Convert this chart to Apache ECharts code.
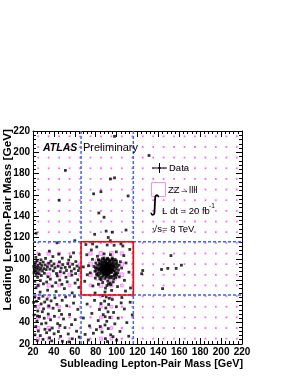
<!DOCTYPE html>
<html><head><meta charset="utf-8">
<script src="https://cdn.jsdelivr.net/npm/echarts@6/dist/echarts.min.js"></script>
<style>html,body{margin:0;padding:0;background:#fff}#c{width:291px;height:376px}</style>
</head><body><div id="c"></div>
<script>
// ---- axis / binning ----
const axisMin = 20, axisMax = 220, tickStep = 20;
const binEdges = [20,30,40,50,60,70,80,90,100,110,120,130,140,150,160,170,180,190,200,210,220];
const zzDefaultFrac = 0.17;
// ZZ->llll MC bins: [bin centre x, bin centre y, box size as fraction of bin width]
const zzBins = [
 [85,85,1],[85,95,1],[95,85,1],[95,95,1],
 [75,85,0.35],[75,95,0.35],[105,85,0.35],[105,95,0.35],[85,75,0.35],[95,75,0.3],[85,105,0.35],[95,105,0.35],
 [75,75,0.25],[105,75,0.25],[75,105,0.3],[105,105,0.3],[65,85,0.25],[65,95,0.25],[115,85,0.2],[115,95,0.2],
 [85,115,0.2],[95,115,0.2],[85,65,0.25],[95,65,0.25],
 [25,85,0.35],[25,95,0.4],[35,85,0.35],[35,95,0.35],[45,85,0.35],[45,95,0.35],[55,85,0.3],[55,95,0.3],
 [25,105,0.25],[35,105,0.3],[45,105,0.25],[55,105,0.2],[25,75,0.3],[35,75,0.3],[45,75,0.25],[55,75,0.25],
 [25,25,0.25],[25,35,0.3],[25,45,0.3],[25,55,0.3],[25,65,0.3],[35,25,0.25],[35,35,0.3],[35,45,0.25],[35,55,0.3],[35,65,0.25],
 [45,25,0.2],[45,35,0.2],[45,45,0.2],[45,55,0.25],[45,65,0.2],[55,25,0.2],[55,35,0.2],[55,45,0.2],[55,55,0.2],[55,65,0.2],
 [75,25,0.2],[85,25,0.3],[95,25,0.25],[105,25,0.2],[75,35,0.2],[85,35,0.25],[95,35,0.25],[105,35,0.2],
 [85,45,0.25],[95,45,0.25],[85,55,0.25],[95,55,0.25],[75,55,0.2],[105,55,0.2],[75,45,0.2],[105,45,0.2]
];
// selection window
const cutLow = 66, cutHigh = 116;

// ---- data events [subleading mass, leading mass] ----
const dataZpeak = [
 [90.2,89.8],[91.1,90.5],[89.4,91.2],[88.7,89.1],[92.3,88.6],[90.8,92.1],[87.9,90.4],[91.6,87.9],[89.1,88.3],[93.0,90.9],
 [88.2,92.4],[90.5,86.9],[86.8,88.7],[92.7,92.8],[89.8,93.5],[94.1,89.2],[87.3,86.5],[91.9,94.0],[85.9,91.6],[93.6,86.8],
 [90.0,91.0],[88.5,87.4],[92.0,90.2],[89.6,90.0],[91.4,91.6],[90.7,88.0],[87.6,91.9],[93.3,92.1],[88.9,94.6],[94.6,91.4],
 [86.4,89.9],[91.0,85.6],[89.0,85.8],[95.2,88.1],[85.5,87.3],[92.6,95.1],[87.1,93.6],[90.3,95.7],[96.0,90.3],[84.8,90.6],
 [93.9,94.4],[88.0,84.7],[92.1,84.9],[86.0,94.8],[95.6,93.2],[84.5,86.1],[90.9,84.0],[89.5,96.4],[97.0,91.8],[83.9,92.7],
 [91.3,89.3],[89.9,89.4],[90.6,90.7],[88.4,90.8],[92.8,89.9],[90.1,87.6],[89.2,92.9],[91.8,92.5],[87.5,88.1],[93.8,88.0],
 [90.4,93.8],[86.7,92.3],[94.4,93.6],[88.1,86.0],[92.4,86.3],[85.3,89.0],[96.3,89.6],[89.7,84.9],[91.7,96.2],[87.0,95.9],
 [93.1,91.0],[90.0,88.6],[88.8,91.7],[91.2,93.1],[89.3,87.0],[92.5,91.5],[87.8,89.6],[94.0,90.6],[90.8,94.8],[86.2,90.9],
 [95.0,87.0],[88.3,93.2],[91.5,86.6],[85.8,93.8],[97.5,88.7],[83.5,88.4],[92.9,97.0],[88.6,97.3],[94.8,95.6],[84.2,94.9],
 [96.7,94.5],[86.9,84.3],[93.4,83.7],[90.2,82.9],[98.2,92.6],[82.9,90.1],
 [82.1,86.3],[83.4,95.8],[81.2,91.5],[84.9,97.9],[98.9,95.1],[99.6,90.8],[98.1,85.4],[97.4,97.6],[95.1,98.7],[92.3,99.2],
 [87.7,98.9],[85.6,82.7],[88.6,81.6],[92.7,81.9],[95.9,83.5],[99.2,82.4],[100.6,92.7],[101.2,87.0],[80.5,88.9],[81.8,94.0],
 [83.1,83.9],[86.3,96.9],[96.4,96.3],[97.8,84.1],[94.7,82.2],[99.9,97.8],[82.6,99.1],[79.8,91.4],[102.3,93.9],[96.2,99.6],
 [84.0,81.5],[91.4,100.5],[87.9,100.8],[100.2,84.9],[80.9,85.7],[93.6,98.0],[89.6,98.4],[98.5,88.2],[83.2,90.7],[97.0,93.3]
];
const dataInWindow = [
 [80.1,96.0],[79.2,88.3],[81.5,84.6],[78.4,92.8],[99.1,86.2],[100.3,95.4],[101.8,89.7],[98.6,99.3],[95.8,100.8],[86.4,100.1],
 [90.9,99.8],[83.0,98.6],[76.9,99.5],[81.7,102.4],[94.1,103.9],[103.6,97.2],[104.8,91.3],[102.5,83.0],[97.3,81.2],[85.2,80.4],
 [79.6,81.9],[74.8,86.8],[73.1,93.5],[88.0,104.6],[99.7,106.5],[71.5,103.8],[106.9,103.0],[109.0,96.1],[111.8,87.4],[107.5,79.8],
 [91.6,79.0],[93.8,77.4],[92.2,76.2],[90.8,74.9],[94.5,75.6],[89.4,72.5],[86.7,77.8],[96.8,78.3],[82.6,76.1],[77.3,74.5],
 [100.9,73.9],[113.3,72.6],[69.5,78.9],[68.2,92.4],[71.9,85.0],[112.6,108.8],[81.0,111.2],[97.6,112.7],[104.1,114.0],[75.8,108.3],
 [70.6,113.4],[108.5,69.7],[88.9,68.8],[95.2,70.3],[79.4,67.9]
];
const dataLeftBand = [
 [21.2,90.5],[22.0,88.3],[22.8,92.1],[23.5,90.0],[24.1,87.1],[21.6,94.6],[25.0,91.8],[23.0,85.4],[26.2,89.2],[22.4,96.8],
 [24.7,93.9],[27.3,91.0],[21.0,86.9],[25.8,86.0],[28.4,93.7],[23.9,98.2],[29.1,88.5],[26.9,95.6],[20.8,92.9],[30.3,90.8],
 [24.4,82.6],[31.5,94.2],[28.0,84.3],[32.6,89.9],[22.7,101.3],[33.8,92.5],[27.6,99.0],[35.0,95.8],[30.9,86.4],[36.2,90.3],
 [34.3,83.1],[38.0,93.4],[29.8,96.9],[39.4,88.7],[37.1,97.7],[41.0,91.6],[32.0,100.4],[42.5,86.2],[40.1,95.2],[44.0,93.0],
 [36.6,80.9],[45.3,97.1],[43.2,83.9],[47.0,91.3],[46.1,88.0],[48.5,94.6],[49.6,86.8],[50.8,91.9],[52.0,89.0],[53.3,95.5],
 [51.5,82.7],[55.0,92.4],[54.2,98.8],[56.7,88.4],[58.0,94.9],[57.2,84.7],[59.5,90.6],[60.8,86.1],[62.1,93.2],[61.0,97.4],
 [63.4,88.9],[64.6,91.5],[48.0,100.6],[44.7,104.4],[39.0,102.1],[58.8,105.6],[33.1,78.2],[27.1,79.5],[41.8,77.6],[52.7,78.4],
 [47.7,76.0],[62.8,80.3],[26.0,104.0],[35.7,107.2],[55.9,101.9],[30.0,76.5],[21.8,78.9],[24.9,75.0],[38.5,74.3],[45.6,80.0],
 [60.3,77.2]
];
const dataLowLeft = [
 [21.5,64.0],[23.2,60.1],[25.7,62.8],[22.1,55.3],[27.8,57.6],[24.6,51.0],[29.5,64.9],[21.0,47.2],[26.3,45.8],[31.2,59.4],
 [23.8,41.5],[28.9,50.3],[33.5,62.1],[22.6,36.4],[30.7,44.2],[35.1,55.7],[25.1,32.2],[32.4,39.6],[37.3,60.5],[27.0,27.9],
 [34.6,48.1],[21.9,28.6],[36.8,42.7],[39.2,53.6],[29.6,24.3],[38.4,35.0],[41.0,63.4],[24.0,23.1],[40.5,46.0],[33.0,30.6],
 [42.8,57.2],[43.6,39.1],[35.9,25.8],[45.1,51.4],[31.4,33.8],[46.4,27.2],[44.3,31.7],[47.9,61.0],[49.2,43.5],[28.2,38.9],
 [50.6,35.4],[48.1,22.6],[52.3,55.9],[53.7,29.4],[55.0,47.7],[51.2,64.2],[56.9,38.2],[57.6,24.9],[58.8,58.4],[60.4,42.9],
 [61.7,32.0],[62.9,52.5],[64.2,26.5],[59.6,64.8],[54.4,22.0],[45.8,37.4],[37.9,22.9],[26.8,68.7],[34.0,70.5],[22.9,72.8],
 [42.1,69.3],[50.0,72.0],[57.5,68.0],[63.9,73.1],[30.1,53.0],[40.2,29.6],[24.3,46.3],[36.0,33.1],[20.6,59.1],[47.3,47.8]
];
const dataBelow = [
 [90.1,64.2],[88.5,60.3],[92.4,57.1],[89.7,53.8],[91.8,50.2],[87.2,47.6],[93.5,44.9],[90.6,41.3],[88.9,37.8],[92.0,34.5],
 [86.1,31.2],[94.4,28.6],[89.3,25.0],[91.2,22.3],[85.0,58.0],[95.9,61.8],[83.6,52.4],[97.1,49.6],[82.4,42.0],[98.3,38.9],
 [80.7,33.5],[96.6,26.9],[78.9,61.0],[99.8,55.0],[76.3,48.7],[101.5,44.3],[74.1,37.0],[103.2,31.8],[71.8,57.5],[105.0,63.6],
 [69.9,29.0],[107.4,52.9],[68.2,44.4],[109.8,40.1],[72.9,23.8],[111.6,27.3],[113.0,59.2],[86.8,65.5],[93.0,62.9],[89.0,45.6],
 [84.3,36.4],[100.1,23.6],[77.8,30.1],[104.4,58.6],[115.0,47.3]
];
const dataHigh = [
 [98,215],[51,183],[94,175],[98,176],[45,155],[78,161],[85,163],[111,159],[83,143],[88,139],[90,126],[96,125],[109,127],
 [79,123],[92,120],[94,117],[60,117],[23,124],[43,115],[77,114],[91,113],[106,112],[131,197],
 [152,103],[162,94],[157,91],[149,91],[143,90],[144,72],[125,89],[124,86]
];

const allData = [].concat(dataZpeak, dataInWindow, dataLeftBand, dataLowLeft, dataBelow, dataHigh);

// build ZZ grid from the bin edges
const zzLookup = {};
zzBins.forEach(b => { zzLookup[b[0] + '_' + b[1]] = b[2]; });
const zzGrid = [];
for (let i = 0; i < binEdges.length - 1; i++) {
  for (let j = 0; j < binEdges.length - 1; j++) {
    const cx = (binEdges[i] + binEdges[i+1]) / 2, cy = (binEdges[j] + binEdges[j+1]) / 2;
    const w = binEdges[i+1] - binEdges[i];
    const f = zzLookup[cx + '_' + cy];
    zzGrid.push([cx, cy, (f === undefined ? zzDefaultFrac : f) * w]);
  }
}

const pink = '#ff66ff';
const pinkLight = '#ff8cff';
const blue = '#3a68ee';
const font = '"Liberation Sans", Arial, Helvetica, sans-serif';

function axisCommon(pos, showLabel) {
  return {
    type: 'value', min: axisMin, max: axisMax, interval: tickStep, position: pos,
    axisLine: { show: true, onZero: false, lineStyle: { color: '#000', width: 1 } },
    axisTick: { show: true, inside: true, length: 6, lineStyle: { color: '#000', width: 1 } },
    minorTick: { show: true, splitNumber: 5, length: 3, lineStyle: { color: '#000', width: 1 } },
    axisLabel: { show: showLabel, color: '#000', fontSize: 10, fontWeight: 'bold', fontFamily: font, margin: 3 },
    splitLine: { show: false }, minorSplitLine: { show: false }
  };
}

function lineSeries(points, color, width, dash, z) {
  return { type: 'line', data: points, symbol: 'none', silent: true, z: z,
    lineStyle: { color: color, width: width, type: dash }, xAxisIndex: 0, yAxisIndex: 0 };
}

const chart = echarts.init(document.getElementById('c'), null, { renderer: 'canvas' });
chart.setOption({
  animation: false,
  backgroundColor: '#fff',
  grid: { left: 33, top: 131, width: 209, height: 213 },
  xAxis: [axisCommon('bottom', true), axisCommon('top', false)],
  yAxis: [axisCommon('left', true), axisCommon('right', false)],
  series: [
    {
      type: 'custom', xAxisIndex: 0, yAxisIndex: 0, z: 2, silent: true,
      data: zzGrid,
      renderItem: function (params, api) {
        const c = api.coord([api.value(0), api.value(1)]);
        const s = api.size([api.value(2), api.value(2)]);
        const small = s[0] < 2.5;
        const mid = s[0] < 5;
        return {
          type: 'rect',
          shape: { x: c[0] - s[0] / 2, y: c[1] - s[1] / 2, width: s[0], height: s[1] },
          style: small ? { fill: pink, stroke: null }
               : (mid ? { fill: '#ffd0ff', stroke: pinkLight, lineWidth: 1 } : { fill: null, stroke: pinkLight, lineWidth: 1 })
        };
      }
    },
    {
      type: 'scatter', data: allData, symbol: 'rect', symbolSize: 2.8, z: 3, silent: true,
      itemStyle: { color: '#000' }, xAxisIndex: 0, yAxisIndex: 0
    },
    lineSeries([[cutLow, axisMin], [cutLow, axisMax]], blue, 1.5, [3, 2], 4),
    lineSeries([[cutHigh, axisMin], [cutHigh, axisMax]], blue, 1.5, [3, 2], 4),
    lineSeries([[axisMin, cutLow], [axisMax, cutLow]], blue, 1.5, [3, 2], 4),
    lineSeries([[axisMin, cutHigh], [axisMax, cutHigh]], blue, 1.5, [3, 2], 4),
    lineSeries([[cutLow, cutLow], [cutHigh, cutLow], [cutHigh, cutHigh], [cutLow, cutHigh], [cutLow, cutLow]], '#ff0000', 1.6, 'solid', 5)
  ],
  graphic: [
    { type: 'text', x: 43, y: 148, z: 10, style: { text: 'ATLAS', font: 'italic bold 10.5px ' + font, fill: '#000', verticalAlign: 'middle' } },
    { type: 'text', x: 83, y: 148, z: 10, style: { text: 'Preliminary', font: '11px ' + font, fill: '#000', verticalAlign: 'middle' } },
    // Data legend marker
    { type: 'line', z: 10, shape: { x1: 152, y1: 168, x2: 167, y2: 168 }, style: { stroke: '#000', lineWidth: 1 } },
    { type: 'line', z: 10, shape: { x1: 159.5, y1: 163, x2: 159.5, y2: 173 }, style: { stroke: '#000', lineWidth: 1 } },
    { type: 'circle', z: 10, shape: { cx: 159.5, cy: 168, r: 1.2 }, style: { fill: '#000' } },
    { type: 'text', x: 169, y: 168, z: 10, style: { text: 'Data', font: '9.5px ' + font, fill: '#000', verticalAlign: 'middle' } },
    // ZZ legend box
    { type: 'rect', z: 10, shape: { x: 151.5, y: 182.5, width: 14, height: 14 }, style: { fill: '#fff', stroke: pinkLight, lineWidth: 1 } },
    { type: 'text', x: 168, y: 190, z: 10, style: { text: 'ZZ\u2192llll', font: '9.5px ' + font, fill: '#000', verticalAlign: 'middle' } },
    // luminosity
    { type: 'text', x: 149, y: 205, z: 10, style: { text: '\u222B', font: '22px "DejaVu Sans", ' + font, fill: '#000', verticalAlign: 'middle' } },
    { type: 'text', x: 162, y: 211, z: 10, style: { text: 'L dt = 20 fb', font: '9.5px ' + font, fill: '#000', verticalAlign: 'middle' } },
    { type: 'text', x: 209, y: 206, z: 10, style: { text: '-1', font: '6.5px ' + font, fill: '#000', verticalAlign: 'middle' } },
    { type: 'text', x: 152, y: 229, z: 10, style: { text: '\u221As= 8 TeV', font: '9.5px ' + font, fill: '#000', verticalAlign: 'middle' } },
    // axis titles
    { type: 'text', x: 243, y: 364, z: 10, style: { text: 'Subleading Lepton-Pair Mass [GeV]', font: 'bold 10.8px ' + font, fill: '#000', align: 'right', verticalAlign: 'middle' } },
    { type: 'text', x: 7.5, y: 129, rotation: Math.PI / 2, z: 10, style: { text: 'Leading Lepton-Pair Mass [GeV]', font: 'bold 11.8px ' + font, fill: '#000', align: 'right', verticalAlign: 'middle' } }
  ]
});
</script>
</body></html>
